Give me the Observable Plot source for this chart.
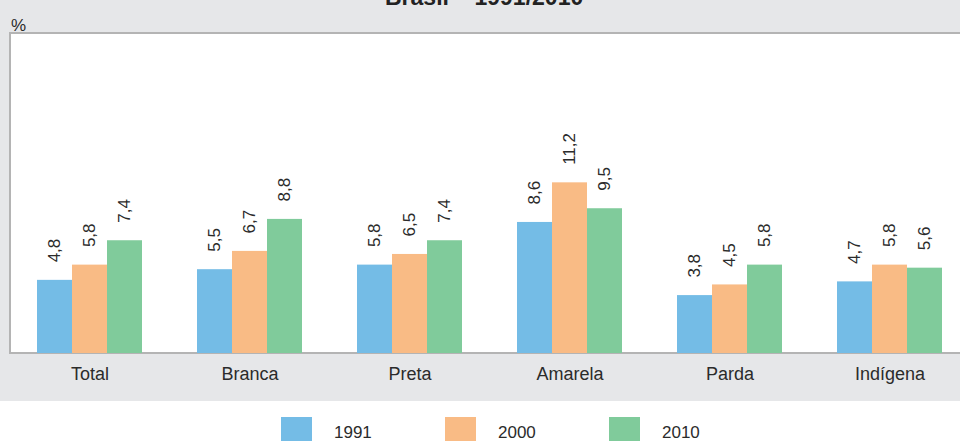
<!DOCTYPE html>
<html><head><meta charset="utf-8">
<script src="https://cdn.jsdelivr.net/npm/d3@7"></script>
<script src="https://cdn.jsdelivr.net/npm/@observablehq/plot@0.6"></script>
<style>
html,body{margin:0;padding:0;background:#fff;}
#wrap{position:relative;width:960px;height:441px;overflow:hidden;background:#fff;font-family:"Liberation Sans",Arial,sans-serif;color:#2b2b2b;}
#bg{position:absolute;left:0;top:0;width:960px;height:401px;background:#e6e7e9;}
#panel{position:absolute;left:9px;top:32px;width:980px;height:322px;background:#fff;box-sizing:border-box;border-left:2px solid #b4b4b4;border-top:2px solid #b4b4b4;border-bottom:2px solid #b4b4b4;}
#title{position:absolute;left:385px;top:-14.5px;font-size:23px;line-height:23px;font-weight:bold;white-space:nowrap;color:#222;}
#pct{position:absolute;left:11px;top:16.6px;font-size:17px;line-height:17px;}
#chart{position:absolute;left:0;top:0;}
.leg{position:absolute;top:417px;height:30px;}
.sw{position:absolute;left:0;top:0;width:31px;height:30px;}
.lt{position:absolute;top:6.6px;font-size:17px;line-height:17px;white-space:nowrap;}
</style>
</head><body>
<div id="wrap">
  <div id="bg"></div>
  <div id="panel"></div>
  <div id="title">Brasil – 1991/2010</div>
  <div id="pct">%</div>
  <div id="chart"></div>
  <div id="legend"></div>
</div>
<script>
const categories = ["Total", "Branca", "Preta", "Amarela", "Parda", "Indígena"];
const years = ["1991", "2000", "2010"];
const values1991 = [4.8, 5.5, 5.8, 8.6, 3.8, 4.7];
const values2000 = [5.8, 6.7, 6.5, 11.2, 4.5, 5.8];
const values2010 = [7.4, 8.8, 7.4, 9.5, 5.8, 5.6];
const colors = ["#74bce6", "#f9bb85", "#80cb9b"];

const series = [values1991, values2000, values2010];
const data = categories.flatMap((c, i) => years.map((y, j) => ({cat: c, year: y, value: series[j][i]})));
const fmt = v => v.toFixed(1).replace(".", ",");

const chart = Plot.plot({
  width: 960, height: 401,
  marginTop: 33, marginBottom: 48, marginLeft: 10, marginRight: -10,
  style: {background: "transparent", fontFamily: "'Liberation Sans', Arial, sans-serif", fontSize: "18px", color: "#2b2b2b", overflow: "visible"},
  fx: {domain: categories, paddingInner: 0.33, paddingOuter: 0.165, axis: "bottom", tickSize: 0, tickPadding: 14, label: null},
  x: {domain: years, padding: 0, axis: null},
  y: {domain: [0, 21], axis: null},
  color: {domain: years, range: colors},
  marks: [
    Plot.barY(data, {fx: "cat", x: "year", y: "value", fill: "year"}),
    Plot.text(data, {fx: "cat", x: "year", y: "value", text: d => fmt(d.value), rotate: -90, textAnchor: "start", dy: -18, fontSize: 17, fill: "#2b2b2b"})
  ]
});
document.getElementById("chart").appendChild(chart);

const legend = document.getElementById("legend");
years.forEach((y, i) => {
  const item = document.createElement("div");
  item.className = "leg";
  item.style.left = (281 + i * 164) + "px";
  const sw = document.createElement("div");
  sw.className = "sw";
  sw.style.background = colors[i];
  const t = document.createElement("div");
  t.className = "lt";
  t.style.left = "53px";
  t.textContent = y;
  item.appendChild(sw);
  item.appendChild(t);
  legend.appendChild(item);
});
</script>
</body></html>
